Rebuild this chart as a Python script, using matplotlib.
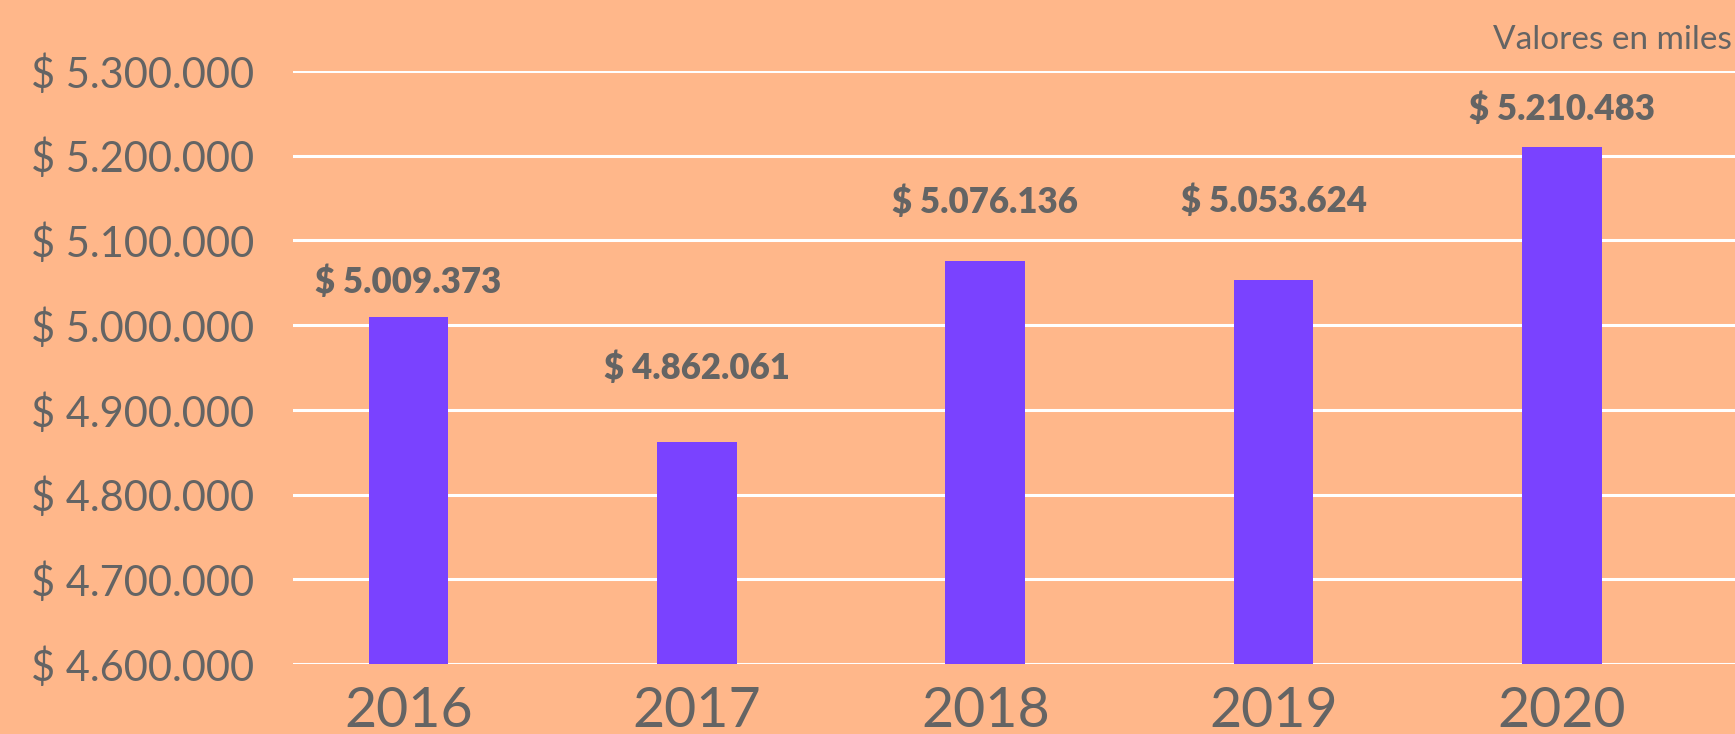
import matplotlib
matplotlib.use("Agg")
import matplotlib.pyplot as plt
from matplotlib.ticker import FuncFormatter

# datos (valores en miles)
years = ["2016", "2017", "2018", "2019", "2020"]
values = [5009373, 4862061, 5076136, 5053624, 5210483]
y_ticks = [4600000, 4700000, 4800000, 4900000, 5000000, 5100000, 5200000, 5300000]

BG = "#FFB78A"
BAR = "#7A42FF"
TEXT = "#646464"

# separacion manual de las etiquetas sobre cada barra (pixeles)
label_offsets = [35, 74, 58, 78, 38]

plt.rcParams["font.family"] = ["Lato", "DejaVu Sans"]


def pesos(v, pos=None):
    return "$ " + f"{int(v):,}".replace(",", ".")


fig = plt.figure(figsize=(17.35, 7.34), dpi=100)
fig.patch.set_facecolor(BG)
ax = fig.add_axes([0.169, 0.0954, 0.831, 0.8079])
ax.set_facecolor(BG)

x = range(len(years))
base = y_ticks[0]
ax.bar(x, [v - base for v in values], bottom=base, width=0.276,
       color=BAR, zorder=3)

for i, v in enumerate(values):
    ax.annotate(pesos(v), (i, v), xytext=(0, label_offsets[i]),
                textcoords="offset pixels", ha="center", va="center",
                fontsize=25, fontweight="heavy", color=TEXT)

ax.set_xlim(-0.4, 4.6)
ax.set_ylim(y_ticks[0], y_ticks[-1])
ax.set_yticks(y_ticks)
ax.yaxis.set_major_formatter(FuncFormatter(pesos))
ax.set_xticks(list(x))
ax.set_xticklabels(years)
ax.grid(axis="y", color="white", linewidth=2.2, zorder=0)
ax.set_axisbelow(True)
for s in ax.spines.values():
    s.set_visible(False)
ax.tick_params(axis="y", length=0, pad=28, labelsize=30, labelcolor=TEXT)
ax.tick_params(axis="x", length=0, pad=16, labelsize=40, labelcolor=TEXT)

fig.text(0.998, 0.945, "Valores en miles", ha="right", va="center",
         fontsize=24, color=TEXT)

fig.savefig("out.png", dpi=100, facecolor=BG)
